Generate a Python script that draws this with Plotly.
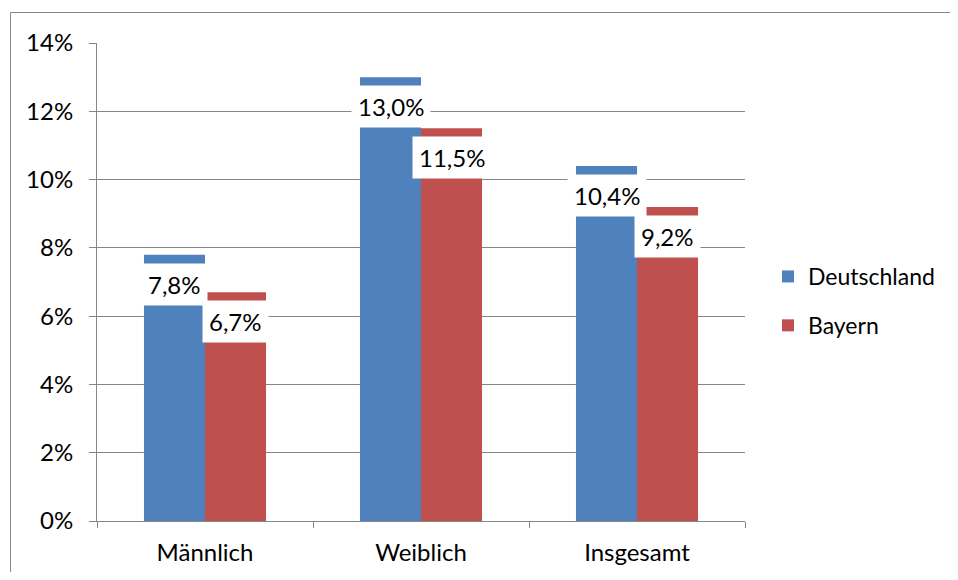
import plotly.graph_objects as go

categories = ["Männlich", "Weiblich", "Insgesamt"]
deutschland = [7.8, 13.0, 10.4]
bayern = [6.7, 11.5, 9.2]
series_names = ["Deutschland", "Bayern"]
colors = ["#4F81BD", "#C0504D"]
y_ticks = [0, 2, 4, 6, 8, 10, 12, 14]

FONT = "Lato, 'Open Sans', sans-serif"
GRID = "#868686"

OFF = 8  # page body margin
W, H = 958 - 2 * OFF, 580 - 2 * OFF
# plot area pixels (in figure coordinates)
L, R, T, B = 97 - OFF, 745 - OFF, 43 - OFF, 521 - OFF

fig = go.Figure()
for name, vals, col, grp in zip(series_names, [deutschland, bayern], colors, ["a", "b"]):
    fig.add_trace(go.Bar(
        x=categories, y=vals, name=name, marker=dict(color=col, line=dict(width=0)),
        legendgroup=grp,
    ))

def fmt(v):
    return f"{v:.1f}".replace(".", ",") + "%"

annotations = []
for vals, shift in [(deutschland, -30.5), (bayern, 30.5)]:
    for c, v in zip(categories, vals):
        annotations.append(dict(
            x=c, y=v, xref="x", yref="y", text=fmt(v), showarrow=False,
            xanchor="center", yanchor="top", xshift=shift, yshift=-8,
            bgcolor="white", borderpad=6, font=dict(family=FONT, size=24, color="black"),
        ))

pw = R - L
ph = B - T
def px_to_paper_x(px):
    return (px - OFF - L) / pw
def px_to_paper_y(py):
    return (B - (py - OFF)) / ph

fig.update_layout(
    width=W, height=H,
    margin=dict(l=L, r=W - R, t=T, b=H - B, pad=0, autoexpand=False),
    paper_bgcolor="white", plot_bgcolor="white",
    font=dict(family=FONT, size=24, color="black"),
    barmode="group", bargap=0.435, bargroupgap=0,
    showlegend=True,
    legend=dict(
        x=px_to_paper_x(768), y=px_to_paper_y(301), xanchor="left", yanchor="middle",
        font=dict(family=FONT, size=23, color="black"),
        tracegroupgap=16, traceorder="grouped", bgcolor="rgba(0,0,0,0)",
    ),
    annotations=annotations,
    shapes=[
        dict(type="line", xref="paper", yref="paper",
             x0=px_to_paper_x(10.5), x1=px_to_paper_x(960),
             y0=px_to_paper_y(12.5), y1=px_to_paper_y(12.5),
             line=dict(color=GRID, width=1), layer="below"),
        dict(type="line", xref="paper", yref="paper",
             x0=px_to_paper_x(10.5), x1=px_to_paper_x(10.5),
             y0=px_to_paper_y(12.5), y1=px_to_paper_y(590),
             line=dict(color=GRID, width=1), layer="below"),
    ],
)

fig.update_xaxes(
    showline=True, linecolor=GRID, linewidth=1,
    ticks="outside", ticklen=6, tickcolor=GRID, tickson="boundaries",
    showgrid=False, zeroline=False, automargin=False,
    tickfont=dict(family=FONT, size=24, color="black"),
    ticklabelstandoff=10,
)
fig.update_yaxes(
    range=[0, 14], tickvals=y_ticks, ticktext=[f"{t}%" for t in y_ticks],
    showline=True, linecolor=GRID, linewidth=1,
    ticks="outside", ticklen=7, tickcolor=GRID,
    showgrid=True, gridcolor=GRID, gridwidth=1, zeroline=False, automargin=False,
    tickfont=dict(family=FONT, size=24, color="black"),
    ticklabelstandoff=11,
)

fig.write_html("out.html")
